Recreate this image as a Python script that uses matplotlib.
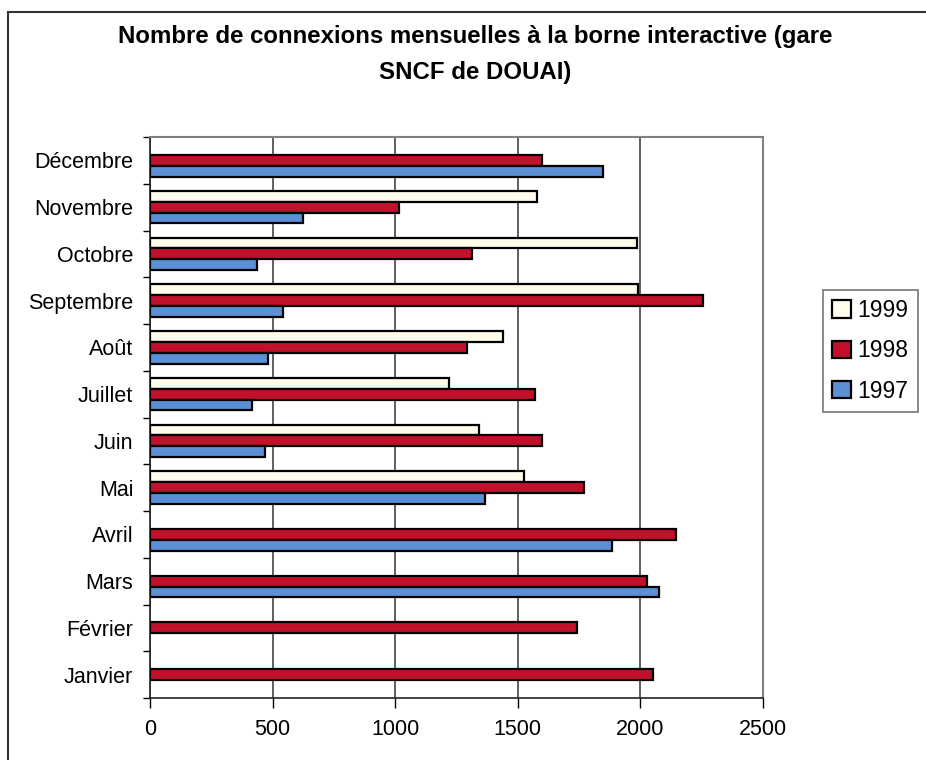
import numpy as np
import matplotlib
matplotlib.use("Agg")
import matplotlib.pyplot as plt
from matplotlib.patches import Rectangle

plt.rcParams["font.family"] = ["Liberation Sans", "DejaVu Sans"]

months = ["Janvier", "Février", "Mars", "Avril", "Mai", "Juin",
          "Juillet", "Août", "Septembre", "Octobre", "Novembre", "Décembre"]
nan = np.nan
v1999 = [nan, nan, nan, nan, 1526, 1341, 1221, 1439, 1992, 1985, 1577, nan]
v1998 = [2051, 1742, 2028, 2144, 1768, 1599, 1571, 1292, 2255, 1312, 1014, 1598]
v1997 = [nan, nan, 2074, 1886, 1367, 469, 418, 482, 544, 438, 623, 1849]
series = ["1999", "1998", "1997"]
colors = ["#fffcec", "#c4112b", "#5b8fd6"]

fig = plt.figure(figsize=(9.26, 7.6), dpi=100)
W, H = 926, 760
ax = fig.add_axes([150 / W, 1 - 698 / H, 613 / W, 561 / H])

y = np.arange(len(months))
h = 0.23
offsets = [h, 0, -h]
for vals, off, col, lab in zip([v1999, v1998, v1997], offsets, colors, series):
    ax.barh(y + off, vals, height=h, color=col, edgecolor="black",
            linewidth=1.6, label=lab, zorder=3)

ax.set_xlim(0, 2500)
ax.set_ylim(-0.5, len(months) - 0.5)
ax.set_xticks(np.arange(0, 2501, 500))
ax.set_yticks(y)
ax.set_yticklabels(months)
ax.set_yticks(np.arange(-0.5, len(months), 1), minor=True)
ax.tick_params(axis="y", which="major", length=0, pad=12, labelsize=15.5)
ax.tick_params(axis="y", which="minor", length=5, width=1, direction="out")
ax.tick_params(axis="x", length=7, width=1, direction="out", pad=8, labelsize=15.5)
ax.xaxis.grid(True, color="#444444", linewidth=1.2, zorder=0)

for side in ["top", "right"]:
    ax.spines[side].set_color("#808080")
    ax.spines[side].set_linewidth(1.5)
for side in ["left", "bottom"]:
    ax.spines[side].set_color("#222222")
    ax.spines[side].set_linewidth(1.2)

fig.text(0.5 + 12 / W, 1 - 37 / H, "Nombre de connexions mensuelles à la borne interactive (gare",
         ha="center", va="center", fontsize=17.3, fontweight="bold")
fig.text(0.5 + 12 / W, 1 - 72 / H, "SNCF de DOUAI)", ha="center", va="center",
         fontsize=17.3, fontweight="bold")

leg = fig.legend(loc="upper left", bbox_to_anchor=(823 / W, 1 - 290 / H),
                 fontsize=16.5, frameon=True, fancybox=False, edgecolor="#555555",
                 handlelength=0.8, handleheight=0.8, handletextpad=0.3,
                 borderpad=0.4, labelspacing=0.75, borderaxespad=0)
leg.get_frame().set_linewidth(1.2)

fig.patches.append(Rectangle((8 / W, -0.05), 1.1, 1 - 12 / H + 0.05,
                             transform=fig.transFigure, fill=False,
                             edgecolor="#333333", linewidth=1.5))

fig.savefig("out.png", dpi=100)
